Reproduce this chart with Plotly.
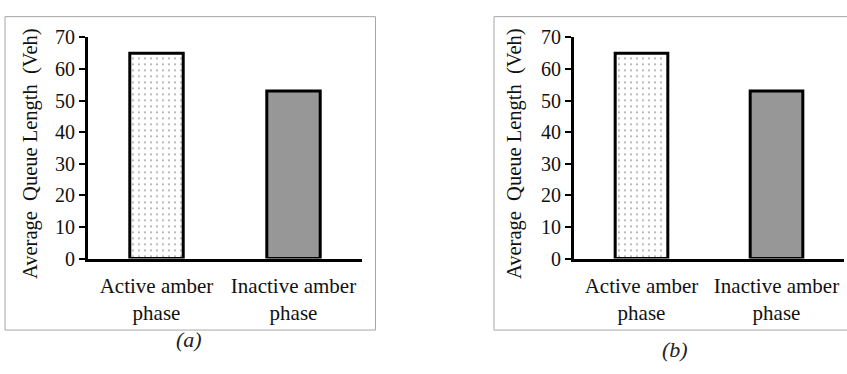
import plotly.graph_objects as go

categories = ["Active amber<br>phase", "Inactive amber<br>phase"]
values_a = [65, 53]
values_b = [65, 53]
y_ticks = [0, 10, 20, 30, 40, 50, 60, 70]
y_title = "Average  Queue Length  (Veh)"
captions = ["(a)", "(b)"]

W, H = 847, 374
FONT = "Liberation Serif"

def px(x):
    return x / W

def py(y):
    return 1 - y / H

pattern = dict(
    shape=[".", "."],
    fgcolor=["#222222", "#000000"],
    bgcolor=["#ffffff", "#ffffff"],
    size=[6, 2],
    solidity=[0.08, 0.5],
    fillmode="overlay",
)

fig = go.Figure()
fig.add_trace(go.Bar(x=categories, y=values_a, xaxis="x", yaxis="y",
                     marker=dict(color=["#ffffff", "#7a7a7a"], pattern=pattern,
                                 line=dict(color="black", width=3)),
                     showlegend=False))
fig.add_trace(go.Bar(x=categories, y=values_b, xaxis="x2", yaxis="y2",
                     marker=dict(color=["#ffffff", "#7a7a7a"], pattern=pattern,
                                 line=dict(color="black", width=3)),
                     showlegend=False))

ydom = [py(263), py(28)]
xcommon = dict(showline=True, linecolor="black", linewidth=3, ticks="",
               showgrid=False, zeroline=False, ticklabelstandoff=6,
               tickfont=dict(family=FONT, size=21, color="#111111"),
               range=[-0.5, 1.5])
ycommon = dict(showline=True, linecolor="black", linewidth=3, ticks="outside",
               ticklen=6, tickwidth=2, tickcolor="black",
               showgrid=False, zeroline=False, range=[0, 70],
               tickvals=y_ticks, ticktext=[str(v) for v in y_ticks],
               tickfont=dict(family=FONT, size=20, color="#111111"),
               domain=ydom)

fig.update_layout(
    width=W, height=H, margin=dict(l=0, r=0, t=0, b=0),
    paper_bgcolor="white", plot_bgcolor="white",
    font=dict(family=FONT),
    bargap=0.61,
    xaxis=dict(domain=[px(88), px(362)], anchor="y", **xcommon),
    yaxis=dict(anchor="x", **ycommon),
    xaxis2=dict(domain=[px(574), px(844)], anchor="y2", **xcommon),
    yaxis2=dict(anchor="x2", **ycommon),
)

# panel borders
fig.add_shape(type="rect", xref="paper", yref="paper",
              x0=px(5), x1=px(375.5), y0=py(339), y1=py(6),
              line=dict(color="#a6a6a6", width=1), layer="below")
fig.add_shape(type="rect", xref="paper", yref="paper",
              x0=px(494), x1=px(852), y0=py(339), y1=py(6),
              line=dict(color="#a6a6a6", width=1), layer="below")

for xc in (30, 514):
    fig.add_annotation(text=y_title, xref="paper", yref="paper",
                       x=px(xc), y=py(152), textangle=-90, showarrow=False,
                       xanchor="center", yanchor="middle",
                       font=dict(family=FONT, size=20.5, color="#111111"))

for (xc, yc), cap in zip([(189, 349), (675, 360)], captions):
    fig.add_annotation(text="<i>" + cap + "</i>", xref="paper", yref="paper",
                       x=px(xc), y=py(yc), showarrow=False,
                       xanchor="center", yanchor="middle",
                       font=dict(family=FONT, size=22, color="#222222"))

fig.write_html("out.html")
